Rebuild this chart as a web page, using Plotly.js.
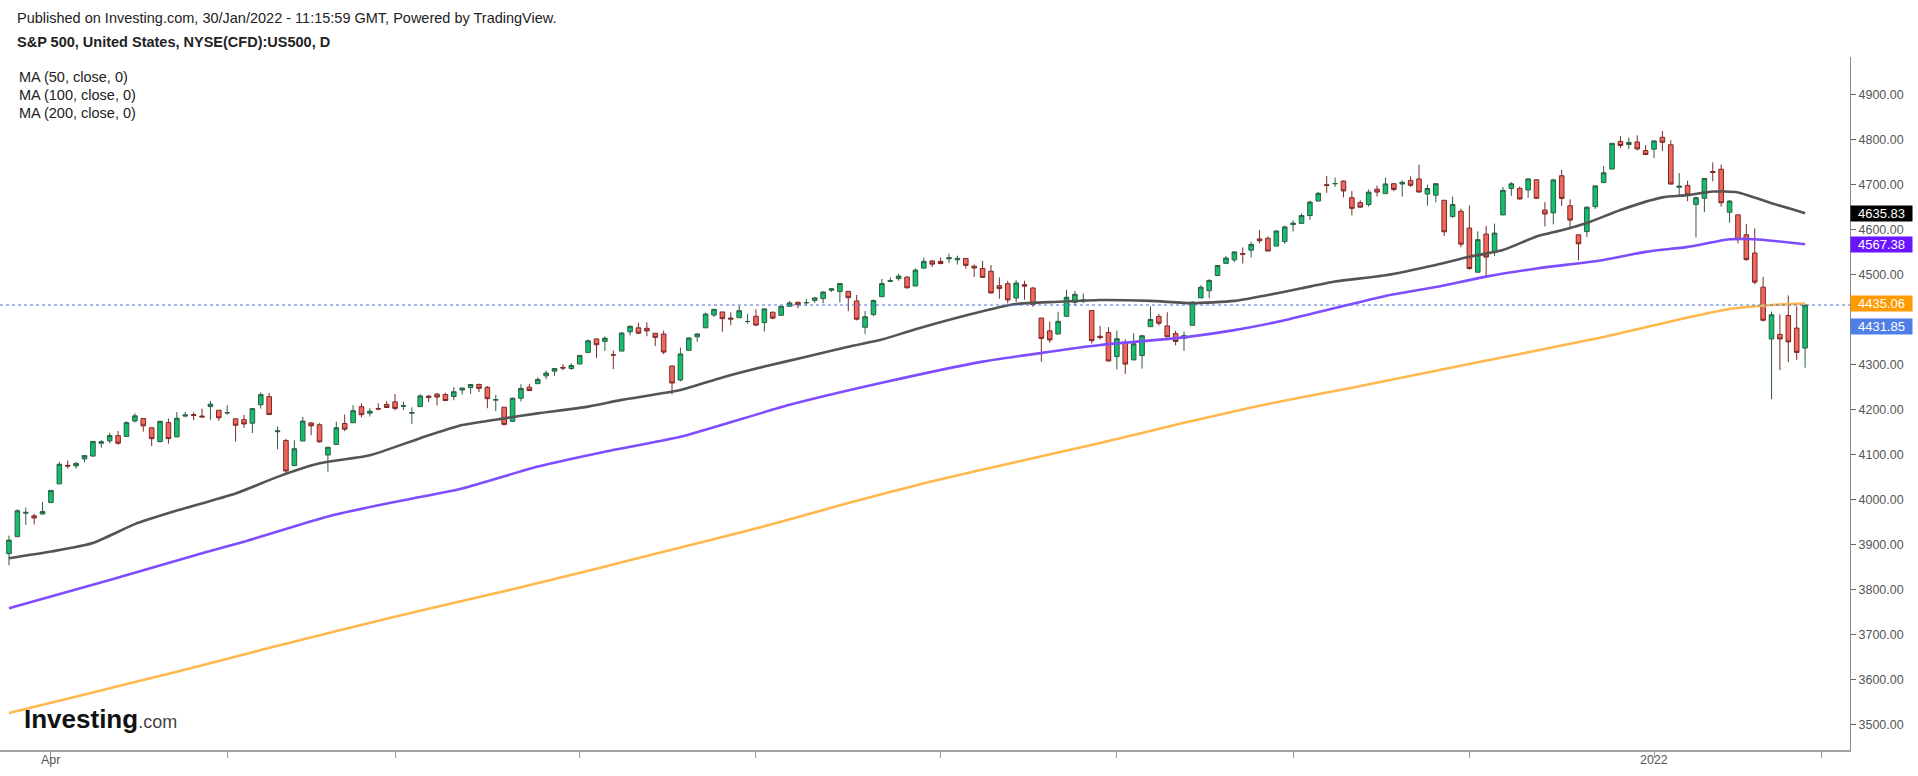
<!DOCTYPE html>
<html><head><meta charset="utf-8">
<script src="https://cdn.plot.ly/plotly-3.0.1.min.js"></script>
<style>html,body{margin:0;padding:0;background:#fff;overflow:hidden}#chart{width:1918px;height:776px}</style>
</head><body><div id="chart"></div>
<script>
const dates = [
'2021-03-25','2021-03-26','2021-03-29','2021-03-30','2021-03-31',
'2021-04-01','2021-04-05','2021-04-06','2021-04-07','2021-04-08','2021-04-09','2021-04-12','2021-04-13','2021-04-14','2021-04-15','2021-04-16','2021-04-19','2021-04-20','2021-04-21','2021-04-22','2021-04-23','2021-04-26','2021-04-27','2021-04-28','2021-04-29','2021-04-30',
'2021-05-03','2021-05-04','2021-05-05','2021-05-06','2021-05-07','2021-05-10','2021-05-11','2021-05-12','2021-05-13','2021-05-14','2021-05-17','2021-05-18','2021-05-19','2021-05-20','2021-05-21','2021-05-24','2021-05-25','2021-05-26','2021-05-27','2021-05-28',
'2021-06-01','2021-06-02','2021-06-03','2021-06-04','2021-06-07','2021-06-08','2021-06-09','2021-06-10','2021-06-11','2021-06-14','2021-06-15','2021-06-16','2021-06-17','2021-06-18','2021-06-21','2021-06-22','2021-06-23','2021-06-24','2021-06-25','2021-06-28','2021-06-29','2021-06-30',
'2021-07-01','2021-07-02','2021-07-06','2021-07-07','2021-07-08','2021-07-09','2021-07-12','2021-07-13','2021-07-14','2021-07-15','2021-07-16','2021-07-19','2021-07-20','2021-07-21','2021-07-22','2021-07-23','2021-07-26','2021-07-27','2021-07-28','2021-07-29','2021-07-30',
'2021-08-02','2021-08-03','2021-08-04','2021-08-05','2021-08-06','2021-08-09','2021-08-10','2021-08-11','2021-08-12','2021-08-13','2021-08-16','2021-08-17','2021-08-18','2021-08-19','2021-08-20','2021-08-23','2021-08-24','2021-08-25','2021-08-26','2021-08-27','2021-08-30','2021-08-31',
'2021-09-01','2021-09-02','2021-09-03','2021-09-07','2021-09-08','2021-09-09','2021-09-10','2021-09-13','2021-09-14','2021-09-15','2021-09-16','2021-09-17','2021-09-20','2021-09-21','2021-09-22','2021-09-23','2021-09-24','2021-09-27','2021-09-28','2021-09-29','2021-09-30',
'2021-10-01','2021-10-04','2021-10-05','2021-10-06','2021-10-07','2021-10-08','2021-10-11','2021-10-12','2021-10-13','2021-10-14','2021-10-15','2021-10-18','2021-10-19','2021-10-20','2021-10-21','2021-10-22','2021-10-25','2021-10-26','2021-10-27','2021-10-28','2021-10-29',
'2021-11-01','2021-11-02','2021-11-03','2021-11-04','2021-11-05','2021-11-08','2021-11-09','2021-11-10','2021-11-11','2021-11-12','2021-11-15','2021-11-16','2021-11-17','2021-11-18','2021-11-19','2021-11-22','2021-11-23','2021-11-24','2021-11-26','2021-11-29','2021-11-30',
'2021-12-01','2021-12-02','2021-12-03','2021-12-06','2021-12-07','2021-12-08','2021-12-09','2021-12-10','2021-12-13','2021-12-14','2021-12-15','2021-12-16','2021-12-17','2021-12-20','2021-12-21','2021-12-22','2021-12-23','2021-12-27','2021-12-28','2021-12-29','2021-12-30','2021-12-31',
'2022-01-03','2022-01-04','2022-01-05','2022-01-06','2022-01-07','2022-01-10','2022-01-11','2022-01-12','2022-01-13','2022-01-14','2022-01-18','2022-01-19','2022-01-20','2022-01-21','2022-01-24','2022-01-25','2022-01-26','2022-01-27','2022-01-28'];

const open = [3879.3,3917.1,3969.3,3963.3,3967.3,
3992.8,4034.4,4075.6,4074.3,4089.9,4096.1,4124.7,4130.1,4141.6,4139.8,4174.1,4179.8,4159.2,4128.4,4170.5,4138.8,4185.0,4188.3,4185.1,4206.1,4198.1,
4192.0,4179.0,4177.1,4169.1,4210.3,4228.3,4150.3,4130.6,4075.0,4129.6,4169.9,4165.9,4098.5,4122.0,4168.6,4170.2,4205.9,4191.6,4201.9,4210.8,
4216.5,4206.8,4191.4,4206.1,4229.3,4233.8,4233.0,4228.6,4242.9,4248.3,4255.3,4248.9,4220.4,4204.8,4173.4,4224.6,4249.3,4257.0,4274.4,4284.9,4293.2,4290.7,
4300.7,4326.6,4356.5,4351.0,4321.1,4329.4,4372.4,4381.1,4380.1,4369.0,4367.4,4296.4,4265.1,4331.1,4361.3,4381.2,4409.6,4416.4,4402.95,4403.6,4395.1,
4406.9,4392.7,4416.0,4408.9,4429.1,4437.8,4436.8,4442.2,4446.1,4464.8,4461.7,4462.1,4440.9,4382.4,4410.6,4450.3,4484.4,4490.5,4493.8,4474.1,4513.8,4529.8,
4528.8,4534.5,4532.4,4535.4,4518.1,4513.0,4506.9,4474.8,4479.3,4447.5,4477.1,4469.7,4402.9,4374.5,4367.4,4406.8,4438.0,4442.1,4419.5,4362.4,4370.7,
4317.2,4348.8,4309.9,4319.6,4383.7,4406.5,4385.4,4368.3,4358.0,4386.8,4447.7,4463.7,4497.3,4524.4,4532.2,4546.1,4553.7,4578.7,4580.2,4562.8,4572.9,
4610.6,4613.3,4630.65,4662.9,4699.3,4701.5,4707.3,4670.3,4659.4,4655.2,4689.3,4679.4,4701.5,4700.7,4708.4,4712.0,4678.5,4675.8,4664.6,4628.75,4640.3,
4602.8,4504.7,4589.5,4548.4,4632.0,4690.9,4691.0,4687.6,4710.3,4643.0,4636.5,4719.1,4652.5,4587.9,4595.0,4650.4,4704.0,4734.0,4795.5,4788.6,4794.2,4775.2,
4778.1,4804.5,4788.0,4693.4,4697.7,4655.3,4669.1,4728.6,4733.6,4638.0,4632.2,4588.0,4547.35,4471.4,4356.3,4366.6,4408.4,4380.6,4336.2];

const high = [3919.5,3978.2,3981.8,3968.0,3994.4,
4020.6,4083.4,4086.2,4083.1,4098.2,4129.5,4131.8,4148.0,4151.7,4173.5,4191.3,4180.8,4159.2,4175.0,4179.6,4194.2,4194.2,4193.4,4201.5,4218.8,4198.1,
4209.4,4179.0,4187.7,4202.7,4238.0,4236.4,4162.0,4134.7,4131.6,4183.1,4171.9,4169.1,4116.9,4172.8,4188.7,4209.5,4213.4,4202.6,4213.4,4218.4,
4234.1,4217.4,4204.4,4233.5,4232.3,4236.7,4237.1,4249.7,4248.4,4255.6,4257.2,4251.9,4232.3,4204.8,4226.2,4255.8,4256.6,4271.3,4286.1,4292.1,4300.5,4302.4,
4320.7,4355.4,4356.5,4361.9,4330.9,4371.6,4386.7,4392.4,4393.7,4369.0,4375.1,4296.4,4336.8,4359.7,4369.9,4415.2,4422.7,4416.4,4415.5,4430.0,4412.3,
4422.2,4423.8,4416.2,4429.8,4440.8,4439.4,4445.2,4449.4,4461.8,4468.4,4480.3,4462.1,4454.3,4418.6,4444.4,4489.9,4492.8,4501.7,4495.9,4513.3,4537.4,4531.4,
4537.1,4545.9,4541.5,4535.4,4521.8,4529.9,4520.5,4493.0,4485.7,4486.9,4485.9,4471.5,4402.9,4394.9,4416.8,4465.4,4463.1,4457.3,4419.5,4385.6,4382.6,
4375.2,4355.5,4369.2,4365.6,4429.0,4412.0,4415.9,4374.9,4372.9,4439.7,4475.8,4488.8,4520.4,4540.9,4551.4,4559.7,4572.6,4598.5,4584.6,4597.6,4608.1,
4620.3,4635.2,4663.5,4683.0,4718.5,4714.9,4708.5,4684.9,4664.6,4688.5,4697.4,4715.0,4701.5,4708.8,4717.8,4743.8,4699.4,4702.9,4664.6,4673.0,4646.0,
4652.9,4595.5,4608.0,4612.6,4694.0,4705.1,4695.3,4713.6,4710.3,4660.5,4712.6,4732.0,4666.7,4587.9,4651.1,4697.7,4740.7,4791.5,4807.0,4804.1,4808.9,4786.8,
4796.6,4818.6,4797.7,4725.0,4708.0,4673.0,4714.1,4748.8,4744.1,4665.1,4632.2,4611.55,4602.1,4494.5,4417.35,4411.0,4453.2,4428.7,4432.7];

const low = [3853.5,3917.1,3943.2,3944.3,3966.8,
3992.8,4034.4,4068.1,4068.3,4082.5,4095.5,4114.8,4124.4,4120.9,4139.8,4170.8,4150.5,4118.4,4126.4,4123.7,4138.8,4182.4,4176.2,4181.8,4176.8,4174.9,
4188.0,4128.6,4158.9,4147.3,4201.6,4188.1,4111.5,4056.9,4075.0,4129.6,4142.7,4126.0,4061.4,4122.0,4151.7,4170.2,4182.5,4184.1,4197.8,4203.6,
4197.6,4198.3,4167.9,4206.1,4215.7,4208.4,4218.7,4220.3,4233.0,4234.1,4238.4,4202.5,4196.1,4164.4,4173.4,4217.3,4241.4,4257.0,4267.0,4274.7,4287.0,4288.0,
4300.7,4326.6,4314.4,4329.8,4289.4,4329.4,4364.0,4366.9,4362.4,4340.7,4322.5,4233.1,4262.1,4331.1,4350.1,4381.2,4405.5,4372.5,4387.0,4403.6,4389.9,
4384.8,4373.0,4400.2,4408.9,4429.1,4424.7,4430.0,4436.4,4435.5,4460.8,4437.7,4417.8,4397.6,4367.7,4406.8,4450.3,4482.7,4485.7,4469.0,4474.1,4513.8,4515.8,
4522.0,4524.7,4521.9,4513.0,4494.0,4492.1,4457.7,4445.7,4435.5,4438.4,4443.8,4427.8,4305.9,4348.0,4367.4,4406.8,4430.3,4436.2,4346.3,4355.1,4306.2,
4288.5,4278.9,4309.9,4290.5,4383.7,4386.2,4360.6,4342.1,4329.9,4386.8,4447.7,4447.1,4496.4,4524.4,4526.9,4524.0,4537.4,4569.2,4551.7,4562.8,4567.6,
4595.1,4613.3,4621.2,4662.6,4681.3,4694.4,4670.9,4630.9,4648.3,4650.4,4672.9,4679.4,4684.4,4672.8,4694.2,4682.2,4652.7,4659.9,4585.4,4625.3,4560.0,
4510.3,4504.7,4495.1,4540.5,4632.0,4674.5,4666.0,4670.2,4667.6,4606.5,4611.2,4651.9,4600.2,4531.1,4583.2,4645.5,4704.0,4734.0,4780.0,4778.1,4775.3,4765.8,
4758.2,4774.3,4699.4,4671.3,4662.7,4582.2,4638.3,4706.7,4650.3,4614.75,4568.7,4530.2,4477.95,4395.3,4222.6,4287.1,4304.8,4309.5,4292.5];

const close = [3909.5,3974.5,3971.1,3958.6,3972.9,
4019.9,4077.9,4073.9,4079.9,4097.2,4128.8,4128.0,4141.6,4124.7,4170.4,4185.5,4163.3,4134.9,4173.4,4135.0,4180.2,4187.6,4186.7,4183.2,4211.5,4181.2,
4192.7,4164.7,4167.6,4201.6,4232.6,4188.4,4152.1,4063.0,4112.5,4173.9,4163.3,4127.8,4115.7,4159.1,4155.9,4197.1,4188.1,4196.0,4200.9,4204.1,
4202.0,4208.1,4192.9,4229.9,4226.5,4227.3,4219.6,4239.2,4247.4,4255.2,4246.6,4223.7,4221.9,4166.5,4224.8,4246.4,4241.8,4266.5,4280.7,4290.6,4291.8,4297.5,
4319.9,4352.3,4343.5,4358.1,4320.8,4369.6,4384.6,4369.2,4374.3,4360.0,4327.2,4258.5,4323.1,4358.7,4367.5,4411.8,4422.3,4401.5,4400.6,4419.2,4395.3,
4387.2,4423.2,4402.7,4429.1,4436.5,4432.4,4437.2,4447.7,4460.8,4468.0,4479.7,4448.1,4400.3,4405.8,4441.7,4479.5,4486.2,4496.2,4470.0,4509.4,4528.8,4522.7,
4524.1,4537.0,4535.4,4520.0,4514.1,4493.3,4458.6,4468.7,4443.1,4480.7,4473.8,4433.0,4357.7,4354.2,4395.6,4449.0,4455.5,4443.1,4352.6,4359.5,4307.5,
4357.0,4300.5,4345.7,4363.6,4399.8,4391.3,4361.2,4350.7,4363.8,4438.3,4471.4,4486.5,4519.6,4536.2,4549.8,4544.9,4566.5,4574.8,4551.7,4596.4,4605.4,
4613.7,4630.65,4660.6,4680.1,4697.5,4701.7,4685.3,4646.7,4649.3,4682.9,4682.8,4700.9,4688.7,4704.5,4698.0,4682.9,4690.7,4701.5,4594.6,4655.3,4567.0,
4513.0,4577.1,4538.4,4591.7,4686.75,4701.2,4667.45,4712.0,4669.0,4634.1,4709.85,4668.7,4620.6,4568.0,4649.2,4696.6,4725.8,4791.2,4786.35,4793.1,4778.7,4766.2,
4796.6,4793.5,4700.6,4696.05,4677.0,4670.3,4713.1,4726.35,4659.0,4662.85,4577.1,4532.8,4482.7,4397.9,4410.1,4356.45,4349.9,4326.5,4431.85];

const ma50Idx = [0,5,10,15,20,27,32,37,43,49,54,59,63,69,73,80,85,90,95,100,104,108,116,120,125,130,136,141,146,150,154,158,164,170,174,178,182,185,188,192,197,200,203,206,210,214];
const ma50 =    [3869,3884,3903,3945,3975,4013,4050,4080,4098,4136,4165,4180,4191,4206,4221,4243,4271,4295,4317,4339,4355,4378,4418,4434,4439,4443,4441,4436,4441,4454,4469,4484,4498,4521,4539,4554,4584,4598,4614,4643,4671,4676,4684,4682,4658,4636];
const ma100Idx = [0,12,23,28,38,44,54,63,71,80,93,104,116,124,130,140,146,152,158,164,170,176,182,190,195,200,205,208,211,214];
const ma100 =    [3758,3821,3880,3906,3962,3987,4024,4073,4106,4139,4210,4259,4306,4328,4343,4360,4376,4398,4425,4452,4472,4495,4513,4532,4550,4561,4578,4578,4573,4567];
const ma200Idx = [0,10,20,30,40,50,60,70,80,90,100,110,120,130,140,150,160,170,180,190,200,205,210,214];
const ma200 =    [3525,3571,3617,3665,3712,3757,3800,3846,3893,3940,3992,4040,4083,4125,4170,4212,4248,4286,4323,4361,4404,4423,4432,4435];

const yTicks = [3500,3600,3700,3800,3900,4000,4100,4200,4300,4400,4500,4600,4700,4800,4900];
const yHiddenLabels = [4400];  // covered by the last-value labels in the reference
const axisDates = dates.concat(['2022-01-31','2022-02-01']);
const monthTicks = ['2021-04-01','2021-05-03','2021-06-01','2021-07-01','2021-08-02','2021-09-01','2021-10-01','2021-11-01','2021-12-01','2022-01-03','2022-02-01'];
const monthLabels = ['Apr','','','','','','','','','2022',''];

const lastLabels = [
  {v:4635.83, bg:'#000000', shift:0},
  {v:4567.38, bg:'#6b14ff', shift:0},
  {v:4435.06, bg:'#ff9a00', shift:0},
  {v:4431.85, bg:'#4f7fe6', shift:-21}
];

const xs = dates.map((d,i)=>i);
const FONT = 'Liberation Sans, Arial, sans-serif';

const traces = [
  {type:'scatter', mode:'lines', x:ma200Idx, y:ma200, line:{color:'#ffb84d', width:2.6, shape:'spline', smoothing:0.6}, hoverinfo:'skip', showlegend:false},
  {type:'scatter', mode:'lines', x:ma100Idx, y:ma100, line:{color:'#7f4dff', width:2.6, shape:'spline', smoothing:0.6}, hoverinfo:'skip', showlegend:false},
  {type:'scatter', mode:'lines', x:ma50Idx, y:ma50, line:{color:'#545454', width:2.6, shape:'spline', smoothing:0.6}, hoverinfo:'skip', showlegend:false},
  {type:'candlestick', x:xs, open:open, high:high, low:low, close:close,
   increasing:{line:{color:'#2e5d43', width:1}, fillcolor:'#12bf6c'},
   decreasing:{line:{color:'#7a2a25', width:1}, fillcolor:'#f2675d'},
   whiskerwidth:0, hoverinfo:'skip', showlegend:false}
];

const W=1850, T=57, B=750, H=B-T;
const px = x => x/W;
const py = y => (B-y)/H;

const annotations = [
  {text:'Published on Investing.com, 30/Jan/2022 - 11:15:59 GMT, Powered by TradingView.', x:px(15), y:py(18)},
  {text:'<b>S&amp;P 500, United States, NYSE(CFD):US500, D</b>', x:px(15), y:py(42)},
  {text:'MA (50, close, 0)', x:px(17), y:py(77)},
  {text:'MA (100, close, 0)', x:px(17), y:py(95)},
  {text:'MA (200, close, 0)', x:px(17), y:py(113)}
].map(a=>Object.assign({xref:'paper', yref:'paper', xanchor:'left', yanchor:'middle', showarrow:false, font:{family:FONT, size:14.5, color:'#222'}}, a));

annotations.push({xref:'paper', yref:'paper', x:px(22), y:py(719), xanchor:'left', yanchor:'middle', showarrow:false,
  text:'<b>Investing</b><span style="font-size:18px;color:#444">.com</span>', font:{family:FONT, size:26, color:'#111'}});

// x tick labels placed close under the axis, as in the reference
monthTicks.forEach((d,k)=>{
  if (!monthLabels[k]) return;
  annotations.push({xref:'x', yref:'paper', x:axisDates.indexOf(d), y:py(760), xanchor:'center', yanchor:'middle',
    showarrow:false, text:monthLabels[k], font:{family:FONT, size:12.5, color:'#555'}});
});

lastLabels.forEach(l=>{
  annotations.push({xref:'paper', yref:'y', x:1, y:l.v, xanchor:'left', yanchor:'middle', yshift:l.shift, xshift:0,
    showarrow:false, text:l.v.toFixed(2), bgcolor:l.bg, width:61, height:15, borderpad:0,
    font:{family:FONT, size:13, color:'#ffffff'}});
});

const layout = {
  width:1918, height:776, margin:{l:0, r:68, t:T, b:776-B},
  paper_bgcolor:'#ffffff', plot_bgcolor:'#ffffff',
  font:{family:FONT},
  boxgap:0.22,
  xaxis:{range:[-1.07, 219.35], tickvals:monthTicks.map(d=>axisDates.indexOf(d)), ticktext:monthTicks.map(()=>''),
    ticks:'outside', ticklen:6, tickcolor:'#9a9a9a', showline:true, linecolor:'#a0a0a0', linewidth:2,
    showgrid:false, zeroline:false, rangeslider:{visible:false}, tickfont:{family:FONT, size:12, color:'#555'}, fixedrange:true},
  yaxis:{side:'right', range:[3443, 4983], tickvals:yTicks,
    ticktext:yTicks.map(v=>yHiddenLabels.includes(v)?'':v.toFixed(2)),
    ticks:'outside', ticklen:5, tickcolor:'#666', showline:true, linecolor:'#8a8a8a', linewidth:1,
    showgrid:false, zeroline:false, tickfont:{family:FONT, size:12.5, color:'#555'}, fixedrange:true},
  shapes:[{type:'line', xref:'paper', yref:'y', x0:0, x1:1, y0:close[close.length-1], y1:close[close.length-1],
    line:{color:'#4a6fe0', width:1, dash:'dot'}}],
  annotations:annotations,
  showlegend:false
};

Plotly.newPlot('chart', traces, layout, {staticPlot:true, displayModeBar:false});
</script></body></html>
